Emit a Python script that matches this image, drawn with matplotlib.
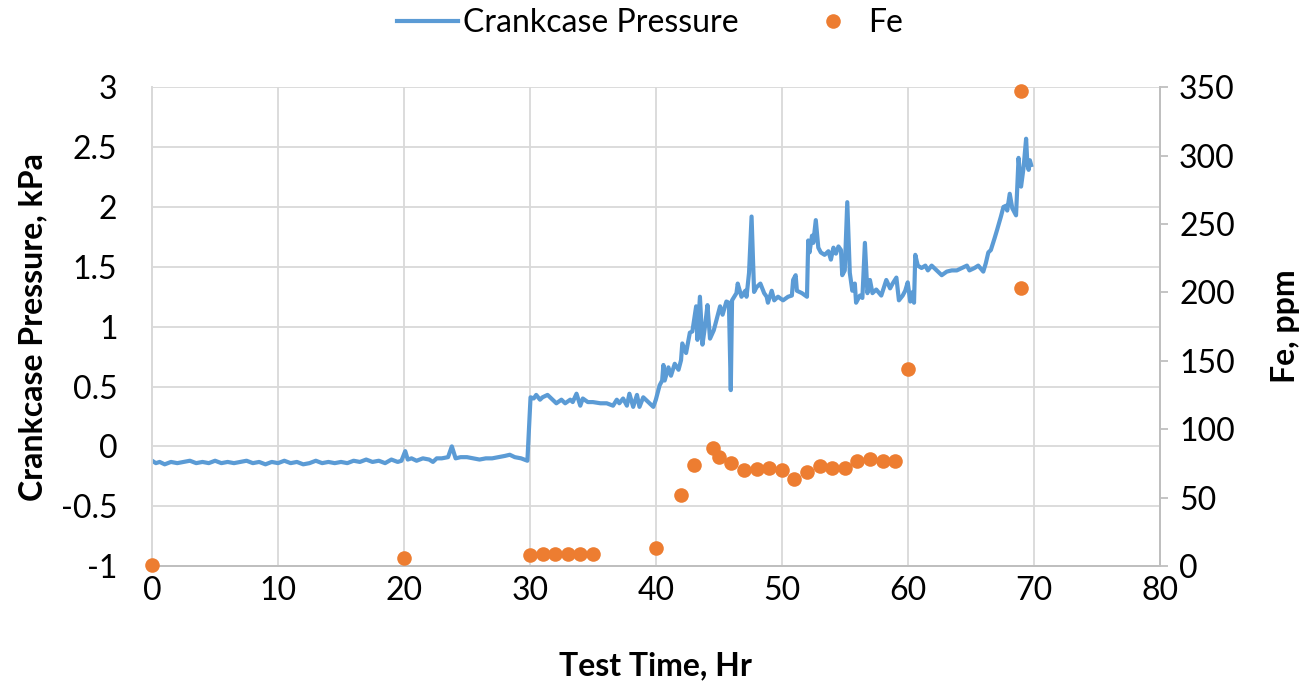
import matplotlib
matplotlib.use("Agg")
import matplotlib.pyplot as plt

# crankcase pressure (hr, kPa)
press_t = [0, 0.3, 0.6, 1, 1.5, 2, 2.5, 3, 3.5, 4, 4.5, 5, 5.5, 6, 6.5, 7, 7.5, 8, 8.5, 9,
           9.5, 10, 10.5, 11, 11.5, 12, 12.5, 13, 13.5, 14, 14.5, 15, 15.5, 16, 16.5, 17, 17.5,
           18, 18.5, 19, 19.5, 19.8, 20.1, 20.3, 20.6, 21, 21.5, 22, 22.3, 22.6, 23, 23.5, 23.8,
           24.1, 24.5, 25, 25.5, 26, 26.5, 27, 27.5, 28, 28.4, 28.8, 29.3, 29.8,
           30.05, 30.3, 30.5, 30.8, 31.0, 31.4, 31.8, 32.1, 32.5, 32.8, 33.2, 33.4, 33.7, 34.0,
           34.2, 34.6, 35.0, 35.6, 36.1, 36.6, 36.9, 37.1, 37.4, 37.7, 37.9, 38.2, 38.5, 38.7,
           39.0, 39.4, 39.8, 40.0, 40.2, 40.3, 40.5, 40.6, 40.7, 41.0, 41.2, 41.5, 41.8, 42.0,
           42.1, 42.4, 42.7, 42.9, 43.2, 43.3, 43.5, 43.7, 43.9, 44.1, 44.3, 44.6, 44.8, 45.1,
           45.3, 45.6, 45.8, 45.95, 46.05, 46.4, 46.5, 46.8, 47.1, 47.2, 47.4, 47.6, 47.8, 48.0,
           48.3, 48.6, 48.8, 48.9, 49.2, 49.4, 49.7, 50.1, 50.5, 50.8, 50.9, 51.1, 51.2, 51.6,
           52.0, 52.1, 52.2, 52.4, 52.5, 52.7, 52.9, 53.1, 53.4, 53.7, 53.9, 54.1, 54.3, 54.5,
           54.7, 54.8, 55.0, 55.2, 55.4, 55.6, 55.8, 55.9, 56.2, 56.4, 56.6, 56.8, 57.0, 57.2,
           57.5, 57.9, 58.3, 58.6, 58.8, 59.1, 59.3, 59.6, 59.8, 60.0, 60.2, 60.4, 60.5, 60.6,
           60.8, 61.1, 61.4, 61.6, 61.9, 62.3, 62.7, 63.1, 63.5, 63.9, 64.3, 64.7, 64.9, 65.3,
           65.6, 66.0, 66.2, 66.4, 66.6, 66.9, 67.1, 67.4, 67.6, 67.8, 67.9, 68.1, 68.3, 68.6,
           68.8, 69.0, 69.2, 69.4, 69.5, 69.6, 69.7, 69.8]
press_kpa = [-0.12, -0.14, -0.13, -0.15, -0.13, -0.14, -0.13, -0.12, -0.14, -0.13, -0.14, -0.12,
             -0.14, -0.13, -0.14, -0.13, -0.12, -0.14, -0.13, -0.15, -0.13, -0.14, -0.12, -0.14,
             -0.13, -0.15, -0.14, -0.12, -0.14, -0.13, -0.14, -0.13, -0.14, -0.12, -0.13, -0.11,
             -0.13, -0.12, -0.14, -0.11, -0.13, -0.12, -0.04, -0.11, -0.10, -0.12, -0.10, -0.11,
             -0.13, -0.10, -0.10, -0.09, 0.0, -0.10, -0.09, -0.09, -0.10, -0.11, -0.10, -0.10,
             -0.09, -0.08, -0.07, -0.09, -0.10, -0.12,
             0.41, 0.40, 0.43, 0.39, 0.41, 0.43, 0.39, 0.36, 0.39, 0.36, 0.39, 0.37, 0.44, 0.34,
             0.40, 0.37, 0.37, 0.36, 0.36, 0.34, 0.39, 0.36, 0.40, 0.34, 0.44, 0.33, 0.43, 0.33,
             0.41, 0.37, 0.33, 0.39, 0.47, 0.51, 0.55, 0.68, 0.55, 0.66, 0.59, 0.69, 0.64, 0.72,
             0.86, 0.78, 0.95, 0.96, 1.17, 0.89, 1.25, 0.85, 1.00, 1.18, 0.90, 0.97, 1.05, 1.17,
             1.10, 1.21, 1.20, 0.47, 1.22, 1.28, 1.36, 1.25, 1.30, 1.25, 1.45, 1.92, 1.29, 1.33,
             1.36, 1.28, 1.25, 1.20, 1.30, 1.22, 1.25, 1.22, 1.25, 1.26, 1.39, 1.43, 1.30, 1.28,
             1.25, 1.72, 1.62, 1.76, 1.70, 1.89, 1.66, 1.62, 1.60, 1.63, 1.56, 1.66, 1.61, 1.67,
             1.64, 1.43, 1.47, 2.04, 1.45, 1.30, 1.36, 1.20, 1.26, 1.24, 1.70, 1.28, 1.39, 1.28,
             1.31, 1.26, 1.39, 1.32, 1.36, 1.41, 1.22, 1.26, 1.30, 1.37, 1.21, 1.29, 1.20, 1.60,
             1.51, 1.49, 1.51, 1.47, 1.51, 1.47, 1.43, 1.46, 1.47, 1.47, 1.49, 1.51, 1.47, 1.49,
             1.51, 1.46, 1.53, 1.62, 1.64, 1.74, 1.81, 1.92, 2.00, 2.01, 1.97, 2.11, 1.99, 1.93,
             2.41, 2.17, 2.33, 2.57, 2.36, 2.31, 2.39, 2.35]

# Fe in oil samples (hr, ppm)
fe_t = [0, 20, 30, 31, 32, 33, 34, 35, 40, 42, 43, 44.5, 45, 46, 47, 48, 49, 50, 51, 52,
        53, 54, 55, 56, 57, 58, 59, 60, 69, 69]
fe_ppm = [1, 6, 8, 9, 9, 9, 9, 9, 13, 52, 74, 86, 80, 75, 70, 71, 72, 70, 64, 69,
          73, 72, 72, 77, 78, 77, 77, 144, 203, 347]

blue = "#5B9BD5"
orange = "#ED7D31"
grid_c = "#D9D9D9"
axis_c = "#BFBFBF"

plt.rcParams["font.family"] = ["Lato", "DejaVu Sans"]
plt.rcParams["font.size"] = 23

fig = plt.figure(figsize=(13, 6.87), dpi=100)
ax = fig.add_axes([0.117, 0.176, 0.775, 0.697])
ax2 = ax.twinx()

ax.plot(press_t, press_kpa, color=blue, lw=3, label="Crankcase Pressure", zorder=3)
ax2.plot(fe_t, fe_ppm, "o", color=orange, ms=10.5, mec="none", label="Fe",
         zorder=3, clip_on=False)

ax.set_xlim(0, 80)
ax.set_ylim(-1, 3)
ax2.set_ylim(0, 350)
ax.set_xticks(range(0, 81, 10))
ax.set_yticks([-1, -0.5, 0, 0.5, 1, 1.5, 2, 2.5, 3])
ax.set_yticklabels(["-1", "-0.5", "0", "0.5", "1", "1.5", "2", "2.5", "3"])
ax2.set_yticks(range(0, 351, 50))

ax.grid(True, color=grid_c, lw=1.3)
ax.set_axisbelow(True)

for a in (ax, ax2):
    a.spines["top"].set_visible(False)
    a.spines["left"].set_color(grid_c)
    a.spines["bottom"].set_color(axis_c)
    a.spines["right"].set_color(axis_c)
    for s in a.spines.values():
        s.set_linewidth(1.3)

ax.tick_params(axis="x", length=0, pad=7)
ax.tick_params(axis="y", length=0, pad=25)
ax2.tick_params(axis="y", length=6, width=1.3, color=axis_c, pad=8)

ax.set_xlabel("Test Time, Hr", fontweight="bold", labelpad=33)
ax.set_ylabel("Crankcase Pressure, kPa", fontweight="bold", labelpad=10)
ax2.set_ylabel("Fe, ppm", fontweight="bold", labelpad=26)

h1, l1 = ax.get_legend_handles_labels()
h2, l2 = ax2.get_legend_handles_labels()
fig.legend(h1 + h2, l1 + l2, loc="upper center", bbox_to_anchor=(0.5, 1.03), ncol=2,
           frameon=False, handlelength=1.9, handletextpad=0.15, columnspacing=2.0)

fig.savefig("out.png", dpi=100)
